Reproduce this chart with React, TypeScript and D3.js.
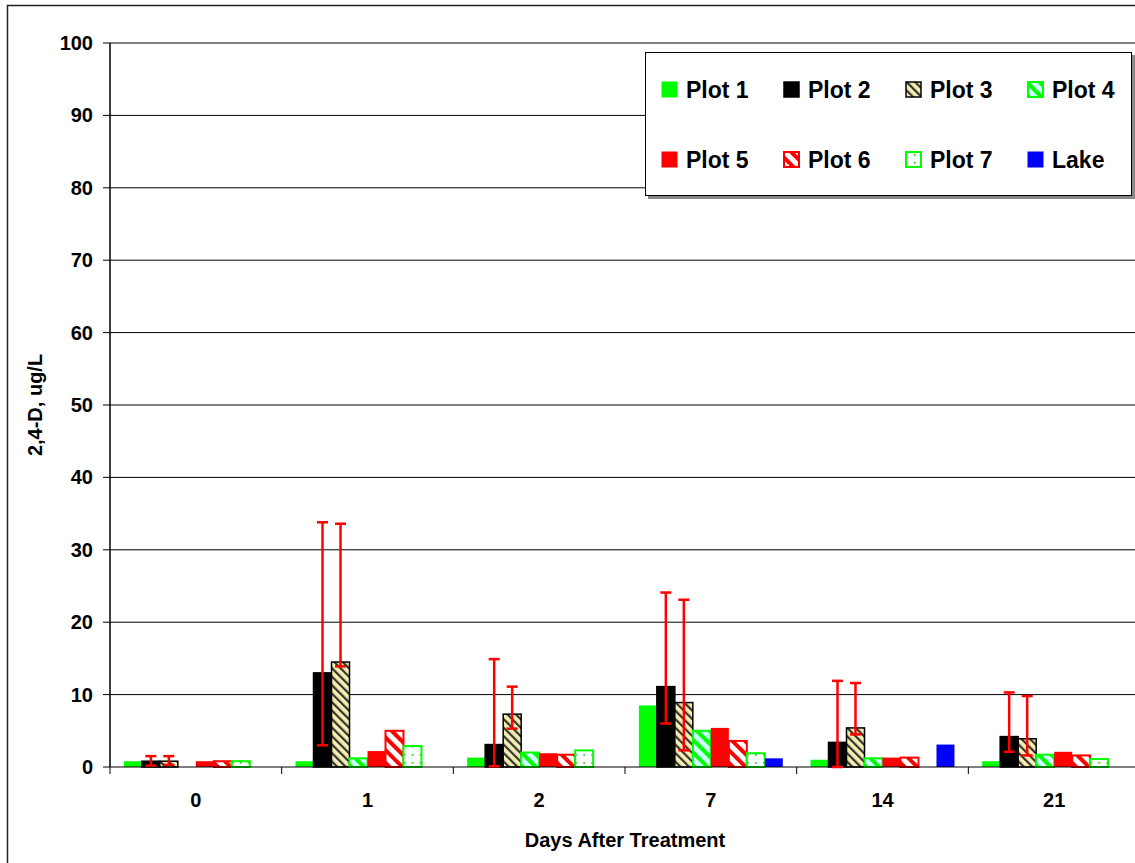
import * as d3 from 'd3';

const days = ['0', '1', '2', '7', '14', '21'];
const seriesNames = ['Plot 1', 'Plot 2', 'Plot 3', 'Plot 4', 'Plot 5', 'Plot 6', 'Plot 7', 'Lake'];

const plot1 = [0.8, 0.8, 1.3, 8.5, 1.0, 0.8];
const plot2 = [0.8, 13.0, 3.1, 11.1, 3.4, 4.2];
const plot3 = [0.8, 14.5, 7.3, 8.9, 5.4, 3.9];
const plot4 = [0, 1.2, 2.0, 5.0, 1.2, 1.7];
const plot5 = [0.8, 2.2, 1.9, 5.4, 1.3, 2.1];
const plot6 = [0.8, 5.0, 1.7, 3.6, 1.3, 1.6];
const plot7 = [0.8, 2.9, 2.3, 1.9, 0, 1.1];
const lake = [0, 0, 0, 1.2, 3.1, 0];

// error bar ends (absolute values), only Plot 2 and Plot 3 have them
const plot2ErrHigh = [1.5, 33.8, 14.9, 24.1, 11.9, 10.3];
const plot2ErrLow = [0.2, 3.0, 0.1, 6.0, 0, 2.1];
const plot3ErrHigh = [1.5, 33.6, 11.1, 23.1, 11.6, 9.8];
const plot3ErrLow = [0.3, 13.9, 5.3, 2.3, 4.5, 1.6];

const yTicks = [0, 10, 20, 30, 40, 50, 60, 70, 80, 90, 100];

const values = [plot1, plot2, plot3, plot4, plot5, plot6, plot7, lake];
const errors: Record<string, [number[], number[]]> = {
  'Plot 2': [plot2ErrLow, plot2ErrHigh],
  'Plot 3': [plot3ErrLow, plot3ErrHigh],
};

const styles: Record<string, { fill: string; stroke: string; sw: number }> = {
  'Plot 1': { fill: '#00ff00', stroke: 'none', sw: 0 },
  'Plot 2': { fill: '#000000', stroke: '#000000', sw: 1.5 },
  'Plot 3': { fill: 'url(#pat3)', stroke: '#000000', sw: 1.5 },
  'Plot 4': { fill: 'url(#pat4)', stroke: '#00ff00', sw: 2 },
  'Plot 5': { fill: '#ff0000', stroke: 'none', sw: 0 },
  'Plot 6': { fill: 'url(#pat6)', stroke: '#ff0000', sw: 2 },
  'Plot 7': { fill: 'url(#pat7)', stroke: '#00ff00', sw: 2 },
  Lake: { fill: '#0000ff', stroke: 'none', sw: 0 },
};

const font = 'Arial, "Liberation Sans", sans-serif';

export default function App() {
  const width = 1135;
  const height = 863;
  const left = 110;
  const right = 1140;
  const top = 43;
  const bottom = 767;

  const y = d3.scaleLinear().domain([0, 100]).range([bottom, top]);
  const x = d3.scaleBand<string>().domain(days).range([left, right]).padding(0);
  const xs = d3
    .scaleBand<string>()
    .domain(seriesNames)
    .range([0, x.bandwidth()])
    .paddingInner(0)
    .paddingOuter(0.77);

  const legendCols = [662, 784, 906, 1028];
  const legendRows = [90, 160];

  return (
    <div style={{ position: 'absolute', left: 0, top: 0 }}>
      <svg width={width} height={height} style={{ display: 'block', fontFamily: font }}>
        <defs>
          <pattern id="pat3" width="6" height="6" patternUnits="userSpaceOnUse" patternTransform="rotate(-45)">
            <rect width="6" height="6" fill="#f5eeb0" />
            <rect width="2.2" height="6" fill="#333" />
          </pattern>
          <pattern id="pat4" width="9" height="9" patternUnits="userSpaceOnUse" patternTransform="rotate(-45)">
            <rect width="9" height="9" fill="#ccffff" />
            <rect width="4" height="9" fill="#00ff00" />
          </pattern>
          <pattern id="pat6" width="9" height="9" patternUnits="userSpaceOnUse" patternTransform="rotate(-45)">
            <rect width="9" height="9" fill="#ffffff" />
            <rect width="4" height="9" fill="#ff0000" />
          </pattern>
          <pattern id="pat7" width="8" height="8" patternUnits="userSpaceOnUse">
            <rect width="8" height="8" fill="#ffffff" />
            <rect x="2" y="2" width="1.6" height="1.6" fill="#00cc00" />
          </pattern>
        </defs>

        <rect x={0} y={0} width={width} height={height} fill="#fff" />
        <rect x={7.5} y={5.5} width={width + 20} height={height + 20} fill="none" stroke="#222" strokeWidth={1.5} />

        {/* gridlines + y ticks */}
        {yTicks.map((t) => (
          <g key={t}>
            {t > 0 && <line x1={left} x2={right} y1={y(t)} y2={y(t)} stroke="#000" strokeWidth={1} />}
            <line x1={left - 7} x2={left} y1={y(t)} y2={y(t)} stroke="#000" strokeWidth={1} />
            <text x={93} y={y(t)} dy="0.35em" textAnchor="end" fontSize={20} fontWeight="bold">
              {t}
            </text>
          </g>
        ))}

        {/* bars */}
        {days.map((d, i) => (
          <g key={d} transform={`translate(${x(d)},0)`}>
            {seriesNames.map((s, k) => {
              const v = values[k][i];
              if (!v) return null;
              const st = styles[s];
              const bx = xs(s)!;
              return (
                <rect
                  key={s}
                  x={bx}
                  y={y(v)}
                  width={xs.bandwidth()}
                  height={y(0) - y(v)}
                  fill={st.fill}
                  stroke={st.stroke}
                  strokeWidth={st.sw}
                />
              );
            })}
          </g>
        ))}

        {/* axes */}
        <line x1={left} x2={left} y1={top} y2={bottom} stroke="#000" strokeWidth={1.5} />
        <line x1={left} x2={right} y1={bottom} y2={bottom} stroke="#000" strokeWidth={1.2} />
        {days.map((d) => (
          <g key={d}>
            <line x1={x(d)!} x2={x(d)!} y1={bottom} y2={bottom + 7} stroke="#000" strokeWidth={1} />
            <text x={x(d)! + x.bandwidth() / 2} y={800} dy="0.35em" textAnchor="middle" fontSize={20} fontWeight="bold">
              {d}
            </text>
          </g>
        ))}

        {/* error bars */}
        {days.map((d, i) => (
          <g key={d} transform={`translate(${x(d)},0)`}>
            {Object.keys(errors).map((s) => {
              const [lo, hi] = errors[s];
              const cx = xs(s)! + xs.bandwidth() / 2;
              return (
                <g key={s} stroke="#ff0000" strokeWidth={2.5}>
                  <line x1={cx} x2={cx} y1={y(hi[i])} y2={y(lo[i])} />
                  <line x1={cx - 5.5} x2={cx + 5.5} y1={y(hi[i])} y2={y(hi[i])} />
                  <line x1={cx - 5.5} x2={cx + 5.5} y1={y(lo[i])} y2={y(lo[i])} />
                </g>
              );
            })}
          </g>
        ))}

        <text x={(left + right) / 2} y={840} dy="0.35em" textAnchor="middle" fontSize={20} fontWeight="bold">
          Days After Treatment
        </text>
        <text
          transform={`translate(35,405) rotate(-90)`}
          dy="0.35em"
          textAnchor="middle"
          fontSize={20}
          fontWeight="bold"
        >
          2,4-D, ug/L
        </text>

        {/* legend */}
        <rect x={648} y={55} width={487} height={144} fill="#888" />
        <rect x={645.5} y={52.5} width={486} height={143} fill="#fff" stroke="#000" strokeWidth={1} />
        {seriesNames.map((s, k) => {
          const lx = legendCols[k % 4];
          const ly = legendRows[Math.floor(k / 4)];
          const st = styles[s];
          return (
            <g key={s}>
              <rect
                x={lx}
                y={ly - 8}
                width={15}
                height={15}
                fill={st.fill}
                stroke={st.stroke === 'none' ? st.fill : st.stroke}
                strokeWidth={st.sw || 1}
              />
              <text x={lx + 24} y={ly} dy="0.35em" fontSize={23} fontWeight="bold">
                {s}
              </text>
            </g>
          );
        })}
      </svg>
    </div>
  );
}
